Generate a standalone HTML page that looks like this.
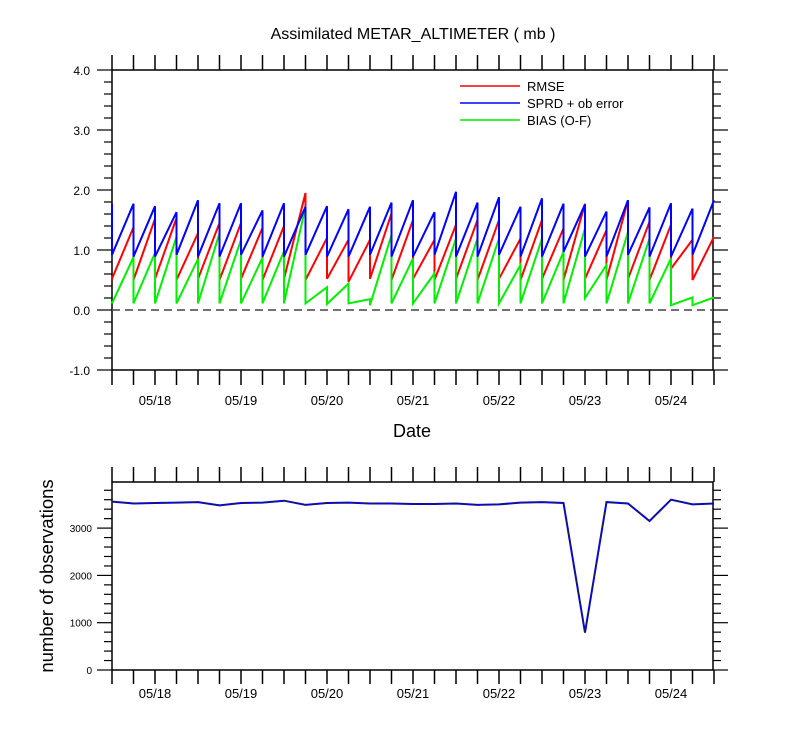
<!DOCTYPE html>
<html><head><meta charset="utf-8"><style>
html,body{margin:0;padding:0;background:#fff;}
svg{display:block;font-family:"Liberation Sans",sans-serif;}
</style></head><body>
<svg id="s" width="800" height="750" viewBox="0 0 800 750" xmlns="http://www.w3.org/2000/svg">
<text x="413" y="39" font-size="16" text-anchor="middle">Assimilated METAR_ALTIMETER ( mb )</text>
<text x="412" y="437" font-size="18" text-anchor="middle">Date</text>
<text transform="translate(53,576) rotate(-90)" font-size="18.5" text-anchor="middle">number of observations</text>
<g id="g"></g>
<line x1="460" y1="86" x2="520" y2="86" stroke="#f00" stroke-width="1.5"/>
<line x1="460" y1="103" x2="520" y2="103" stroke="#00f" stroke-width="1.5"/>
<line x1="460" y1="120" x2="520" y2="120" stroke="#0e0" stroke-width="1.5"/>
<text x="527" y="91" font-size="13">RMSE</text>
<text x="527" y="108" font-size="13">SPRD + ob error</text>
<text x="527" y="125" font-size="13">BIAS (O-F)</text>
</svg>
<script>
var g=document.getElementById('g'),h='';
var L=112,R=713,dx=21.5;
function X(i){return L+dx*i;}
function Y(v){return 310-60*v;}
function ln(a,b,c,d,w,col,extra){h+='<line x1="'+a+'" y1="'+b+'" x2="'+c+'" y2="'+d+'" stroke="'+(col||'#000')+'" stroke-width="'+(w||1.5)+'" '+(extra||'')+'/>';}
function tx(x,y,s,fs,anc){h+='<text x="'+x+'" y="'+y+'" font-size="'+fs+'" text-anchor="'+(anc||'middle')+'">'+s+'</text>';}
h+='<rect x="112" y="70" width="601" height="300" fill="none" stroke="#000" stroke-width="1.5"/>';
for(var i=0;i<=28;i++){ln(X(i),55,X(i),70);ln(X(i),370,X(i),385);}
for(var k=0;k<=25;k++){var y=370-12*k,maj=(k%5==0);var len=maj?15:8;ln(L-len,y,L,y,1.2);ln(R,y,R+len,y,1.2);}
var yl=['-1.0','0.0','1.0','2.0','3.0','4.0'];
for(var k=0;k<6;k++)tx(90,370-60*k+5,yl[k],12,'end');
var days=['05/18','05/19','05/20','05/21','05/22','05/23','05/24'];
for(var d=0;d<7;d++){tx(X(2+4*d),405,days[d],13);tx(X(2+4*d),698,days[d],13);}
ln(112,310,713,310,1.5,'#444','stroke-dasharray="8,5"');
var bH=[1.77,1.77,1.73,1.63,1.83,1.78,1.78,1.66,1.78,1.72,1.73,1.68,1.72,1.79,1.83,1.63,1.97,1.79,1.88,1.72,1.86,1.77,1.76,1.64,1.83,1.71,1.78,1.69,1.83];
var rH=[0.5,1.38,1.52,1.53,1.28,1.45,1.45,1.37,1.4,1.95,1.2,1.17,1.17,1.61,1.5,1.17,1.42,1.5,1.5,1.19,1.5,1.36,1.77,1.33,1.83,1.47,1.42,1.17,1.22];
var gH=[0.12,0.88,0.95,1.22,0.85,1.28,1.17,0.87,0.98,1.72,0.38,0.44,0.18,1.25,0.86,0.61,1.19,1.19,1.19,0.75,1.19,0.97,1.36,0.75,1.3,1.19,0.86,0.21,0.21];
var bL=[],rL=[],gL=[];
for(var i=0;i<29;i++){bL.push(i%3==0?0.92:0.89);rL.push(i%2?0.5:0.52);gL.push(0.11);}
rL[11]=0.47;rL[26]=0.69;gL[12]=0.08;gL[22]=0.2;gL[26]=0.08;gL[27]=0.08;gL[10]=0.1;bL[21]=0.97;
function saw(H,Lo,col){var p='M'+X(0)+','+Y(H[0])+' L'+X(0)+','+Y(Lo[0]);
for(var i=1;i<29;i++){p+=' L'+X(i)+','+Y(H[i]);if(i<28)p+=' L'+X(i)+','+Y(Lo[i]);}
h+='<path d="'+p+'" fill="none" stroke="'+col+'" stroke-width="2"/>';}
saw(rH,rL,'#f00');saw(gH,gL,'#0e0');saw(bH,bL,'#00f');
var B0=670,sc=0.0473;
function Yb(v){return B0-sc*v;}
h+='<rect x="112" y="482" width="601" height="188" fill="none" stroke="#000" stroke-width="1.5"/>';
for(var i=0;i<=28;i++){ln(X(i),467,X(i),482);ln(X(i),670,X(i),684);}
for(var k=0;k<=19;k++){var v=200*k,y=Yb(v),maj=(k%5==0),len=maj?15:8;ln(L-len,y,L,y,1.2);ln(R,y,R+len,y,1.2);}
for(var k=0;k<4;k++)tx(92,Yb(1000*k)+4,String(1000*k),10,'end');
var N=[3560,3520,3530,3540,3550,3480,3530,3540,3580,3490,3530,3540,3520,3520,3510,3510,3520,3490,3500,3540,3550,3530,790,3550,3520,3150,3600,3500,3520];
var p='';for(var i=0;i<29;i++)p+=(i?' L':'M')+X(i)+','+Yb(N[i]).toFixed(1);
h+='<path d="'+p+'" fill="none" stroke="#00f" stroke-width="2"/>';
h+='<path d="'+p+'" fill="none" stroke="#222" stroke-width="1.2" stroke-dasharray="6,4"/>';
g.innerHTML=h;
</script>
</body></html>
